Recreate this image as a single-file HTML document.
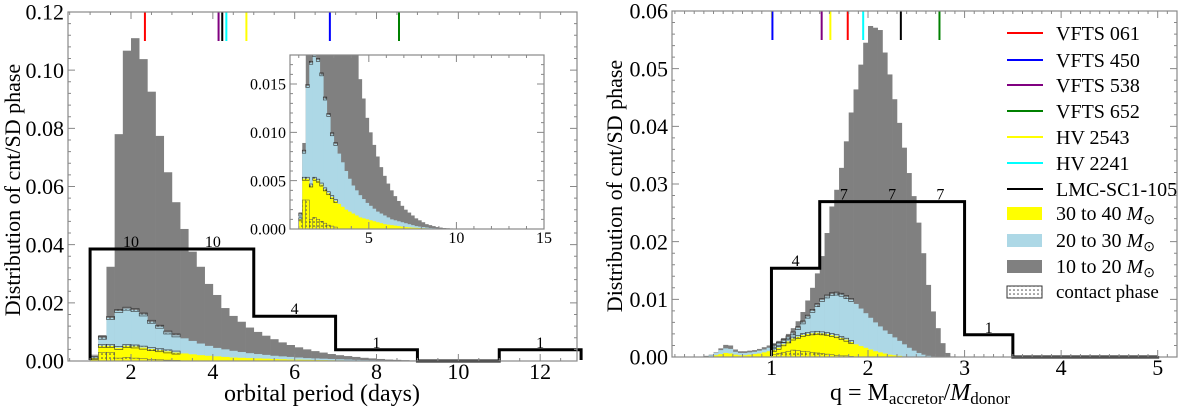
<!DOCTYPE html>
<html><head><meta charset="utf-8">
<style>
html,body{margin:0;padding:0;background:#fff;}
svg{display:block;font-family:"Liberation Serif",serif;}
</style></head>
<body>
<svg id="fig" width="1200" height="412" viewBox="0 0 1200 412" xmlns="http://www.w3.org/2000/svg">
<defs>
<pattern id="hatch" width="4" height="4" patternUnits="userSpaceOnUse"><rect width="4" height="4" fill="none"/><circle cx="2" cy="2" r="0.8" fill="#444"/></pattern>
<clipPath id="insetClip"><rect x="290" y="55" width="254" height="174"/></clipPath>
</defs>
<g id="left"></g>
<g id="inset"></g>
<g id="right"></g>
<g id="legend"></g>
</svg>
<script>
// ---- Period panel data (bins 0.2 d starting at 1.0 d) ----
const pStart = 1.0;
const pWidth = 0.2;
const pGray = [.0017,.0089,.0324,.078,.1067,.111,.1038,.0926,.0774,.0649,.0546,.0454,.0376,.0324,.0265,.0227,.0182,.0155,.0135,.0115,.0100,.0087,.0075,.0064,.0055,.0047,.0040,.0034,.0029,.0024,.0020,.0017,.0014,.0011,.0009,.0007,.0005,.0004,.0003,.0002,.00015,.0001,.00008,.00006,.00004,.00003,.00002,.00001];
const pBlue = [.0015,.0080,.0148,.0172,.0180,.0175,.0160,.0135,.0118,.0098,.0088,.0078,.0069,.0060,.0052,.0045,.0040,.0035,.0031,.0027,.0024,.0021,.0018,.0016,.0014,.0012,.0010,.0009,.0008,.0007,.0006,.0005,.0004,.0003,.00025,.0002,.00015,.0001,.00008,.00006,.00005,.00004,.00003,.00002,.00002,.00001,.00001,0];
const pYellow = [.0010,.0052,.0052,.0045,.0052,.0050,.0046,.0041,.0037,.0033,.0029,.0026,.0023,.0020,.0018,.0016,.0014,.0012,.0011,.0010,.0009,.0008,.0007,.0006,.0005,.00045,.0004,.00035,.0003,.00025,.0002,.00017,.00014,.00012,.0001,.00008,.00006,.00005,.00004,.00003,.00002,.00002,.00001,0,0,0,0,0];
const pContact = [.0010,.0030,.0030,.0010,.0012,.0010,.0008,.0006,.0004,.0003,.0002];
const pObsEdges = [1,3,5,7,9,11,13];
const pObsCounts = [10,10,4,1,0,1];
const pStars = [2.34,6.86,4.14,8.55,4.82,4.33,4.23];
const pXTicks = [2,4,6,8,10,12];
const pYTicks = [0,0.02,0.04,0.06,0.08,0.10,0.12];
const insXTicks = [5,10,15];
const insYTicks = [0,0.005,0.010,0.015];
// ---- Mass-ratio panel data (bins 0.05 starting at 0.30) ----
const qStart = 0.30;
const qWidth = 0.05;
const qGray = [.0002,.0004,.0008,.0015,.0021,.0020,.0013,.0010,.0010,.0011,.0012,.0014,.0017,.0020,.0024,.0028,.0033,.0040,.0050,.0062,.0078,.0098,.0120,.0145,.0175,.0215,.0261,.0290,.0328,.0374,.0424,.0464,.0507,.0545,.0574,.0571,.0567,.0528,.0490,.0447,.0406,.0363,.0319,.0279,.0233,.0180,.0125,.0079,.0050,.0024,.0007,.0001];
const qBlue = [.0001,.0003,.0007,.0012,.0015,.0014,.0009,.0007,.0007,.0008,.0009,.0011,.0013,.0016,.0019,.0023,.0028,.0034,.0041,.0050,.0060,.0070,.0080,.0090,.0099,.0105,.0109,.0110,.0108,.0104,.0099,.0092,.0084,.0076,.0068,.0060,.0053,.0046,.0040,.0034,.0028,.0022,.0016,.0011,.0007,.0004,.0002,.0001,0,0,0,0];
const qYellow = [0,.0001,.0003,.0005,.0007,.0006,.0004,.0003,.0003,.0004,.0005,.0006,.0008,.0010,.0012,.0016,.0022,.0027,.0032,.0035,.0038,.0040,.0041,.0042,.0041,.0040,.0038,.0036,.0033,.0030,.0026,.0022,.0019,.0016,.0013,.0010,.0008,.0006,.0004,.0003,.0002,.0001,0,0,0,0,0,0,0,0,0,0];
const qContact = [0,0,0,0,0,0,0,0,0,0,0,0,0,0,.0004,.0006,.0008,.0010,.0012,.0011,.0010,.0009,.0008,.0007,.0006,.0005,.0004,.0003,.0002,.0002,.0001];
const qObsEdges = [1,1.5,2,2.5,3,3.5,5];
const qObsCounts = [4,7,7,7,1,0];
const qStars = [1.79,1.01,1.52,2.74,1.61,1.95,2.34];
const qXTicks = [1,2,3,4,5];
const qYTicks = [0,0.01,0.02,0.03,0.04,0.05,0.06];
const starNames = ["VFTS 061","VFTS 450","VFTS 538","VFTS 652","HV 2543","HV 2241","LMC-SC1-105"];
const starColors = ["#ff0000","#0000ff","#800080","#008000","#ffff00","#00ffff","#000000"];
const countScale = 0.00385;

const NS = "http://www.w3.org/2000/svg";
function mk(tag, attrs, parent){ const e=document.createElementNS(NS,tag); for(const k in attrs) e.setAttribute(k,attrs[k]); parent.appendChild(e); return e; }
function lin(d0,d1,r0,r1){ return v=> r0+(v-d0)/(d1-d0)*(r1-r0); }

function drawHist(g, sx, sy, start, w, gray, blue, yellow, contact, y0){
  const layers=[[gray,"#808080","gray-bar"],[blue,"#add8e6","blue-bar"],[yellow,"#ffff00","yellow-bar"]];
  layers.forEach(([arr,col,nm])=>{
    arr.forEach((v,i)=>{
      if(v<=0) return;
      const x0=sx(start+i*w), x1=sx(start+(i+1)*w), yt=sy(v);
      const r=mk("rect",{x:x0,y:yt,width:x1-x0+0.3,height:y0-yt,fill:col},g);
      
      
    });
  });
  contact.forEach((v,i)=>{
    if(v<=0) return;
    const x0=sx(start+i*w), x1=sx(start+(i+1)*w);
    const r=mk("rect",{x:x0,y:sy(v),width:x1-x0,height:y0-sy(v),fill:"url(#hatch)",stroke:"#555","stroke-width":0.5},g);
    
    
    [blue[i],yellow[i]].forEach(t=>{ if(t>0.0006){
      const b=mk("rect",{x:x0,y:sy(t)-1.5,width:x1-x0,height:3,fill:"url(#hatch)",stroke:"#333","stroke-width":0.6},g);
      
      
    }});
  });
}
function drawObs(g, sx, sy, edges, counts, y0, fs){
  let d=`M${sx(edges[0])},${y0}`;
  counts.forEach((c,i)=>{ const y=sy(c*countScale); d+=` L${sx(edges[i])},${y} L${sx(edges[i+1])},${y}`; });
  d+=` L${sx(edges[edges.length-1])},${y0}`;
  const p=mk("path",{d:d,fill:"none",stroke:"#000","stroke-width":3},g);
  
  
  counts.forEach((c,i)=>{ if(c<=0) return;
    const t=mk("text",{x:(sx(edges[i])+sx(edges[i+1]))/2,y:sy(c*countScale)-2,"font-size":fs,"text-anchor":"middle"},g);
    t.textContent=c;
    
    
  });
}
function drawStars(g, sx, vals, yTop, yBot){
  vals.forEach((v,i)=>{
    const l=mk("line",{x1:sx(v),x2:sx(v),y1:yTop,y2:yBot,stroke:starColors[i],"stroke-width":2},g);
    
    
  });
}
function drawFrame(g,x0,x1,y0,y1,sx,sy,xt,yt,xminor,yminor,xr,yr,fs,xfmt,yfmt,lblGap){
  const f=mk("rect",{x:x0,y:y1,width:x1-x0,height:y0-y1,fill:"none",stroke:"#888","stroke-width":1.2},g);
  
  
  let d="";
  for(let v=xr[0];v<=xr[1]+1e-9;v+=xminor){ const x=sx(v); if(x<x0||x>x1) continue; d+=`M${x},${y0}v-3M${x},${y1}v3`; }
  for(let v=yr[0];v<=yr[1]+1e-9;v+=yminor){ const y=sy(v); if(y<y1-0.5||y>y0+0.5) continue; d+=`M${x0},${y}h3M${x1},${y}h-3`; }
  xt.forEach(v=>{ const x=sx(v); if(x>=x0-0.5&&x<=x1+0.5) d+=`M${x},${y0}v-7M${x},${y1}v7`; });
  yt.forEach(v=>{ const y=sy(v); d+=`M${x0},${y}h7M${x1},${y}h-7`; });
  const tk=mk("path",{d:d,stroke:"#888","stroke-width":1,fill:"none"},g);
  
  
  xt.forEach(v=>{ const t=mk("text",{x:sx(v),y:y0+lblGap,"font-size":fs,"text-anchor":"middle"},g); t.textContent=xfmt(v);
    
     });
  yt.forEach(v=>{ const t=mk("text",{x:x0-4,y:sy(v)+fs*0.35,"font-size":fs,"text-anchor":"end"},g); t.textContent=yfmt(v);
    
     });
}

// ---- Left panel ----
(function(){
  const g=document.getElementById("left");
  const X0=68,X1=577,Y0=361,Y1=12;
  const sx=lin(0.46,12.9,X0,X1), sy=lin(0,0.12,Y0,Y1);
  drawHist(g,sx,sy,pStart,pWidth,pGray,pBlue,pYellow,pContact,Y0);
  drawObs(g,sx,sy,pObsEdges,pObsCounts,Y0-1,16);
  drawStars(g,sx,pStars,Y1,41);
  drawFrame(g,X0,X1,Y0,Y1,sx,sy,pXTicks,pYTicks,0.5,0.004,[0.5,13],[0,0.12],22,v=>v,v=>v.toFixed(2),18);
  const xl=mk("text",{x:322,y:401,"font-size":24,"text-anchor":"middle"},g); xl.textContent="orbital period (days)";
  
  
  const yl=mk("text",{x:0,y:0,"font-size":22,"text-anchor":"middle",transform:"translate(20,190) rotate(-90)"},g); yl.textContent="Distribution of cnt/SD phase";
  
  
})();
// ---- Inset ----
(function(){
  const g=document.getElementById("inset");
  const X0=290,X1=544,Y0=229,Y1=55;
  const sx=lin(0.5,15,X0,X1), sy=lin(0,0.018,Y0,Y1);
  mk("rect",{x:X0,y:Y1,width:X1-X0,height:Y0-Y1,fill:"#fff"},g);
  const c=mk("g",{"clip-path":"url(#insetClip)"},g);
  drawHist(c,sx,sy,pStart,pWidth,pGray,pBlue,pYellow,pContact,Y0);
  drawFrame(g,X0,X1,Y0,Y1,sx,sy,insXTicks,insYTicks,1,0.001,[1,15],[0,0.018],16,v=>v,v=>v.toFixed(3),14);
})();
// ---- Right panel ----
(function(){
  const g=document.getElementById("right");
  const X0=672,X1=1177,Y0=357,Y1=11;
  const sx=lin(-0.03,5.2,X0,X1), sy=lin(0,0.06,Y0,Y1);
  drawHist(g,sx,sy,qStart,qWidth,qGray,qBlue,qYellow,qContact,Y0);
  drawObs(g,sx,sy,qObsEdges,qObsCounts,Y0-1,16);
  drawStars(g,sx,qStars,Y1,40);
  drawFrame(g,X0,X1,Y0,Y1,sx,sy,qXTicks,qYTicks,0.1,0.002,[0,5.2],[0,0.06],22,v=>v,v=>v.toFixed(2),18);
  const xl=mk("text",{x:920,y:400,"font-size":24,"text-anchor":"middle"},g);
  xl.innerHTML='q = M<tspan font-size="17" dy="4">accretor</tspan><tspan dy="-4">/</tspan><tspan font-style="italic">M</tspan><tspan font-size="17" dy="4">donor</tspan>';
  
  
  const yl=mk("text",{x:0,y:0,"font-size":22,"text-anchor":"middle",transform:"translate(622,186) rotate(-90)"},g); yl.textContent="Distribution of cnt/SD phase";
  
  
})();
// ---- Legend ----
(function(){
  const g=document.getElementById("legend");
  const ys=[33,60,85,111,137,163,189,213,240,266,292];
  starNames.forEach((n,i)=>{
    const e=mk("g",{},g);
    
    
    mk("line",{x1:1007,x2:1043,y1:ys[i],y2:ys[i],stroke:starColors[i],"stroke-width":2},e);
    const t=mk("text",{x:1056,y:ys[i]+7,"font-size":20},e); t.textContent=n;
  });
  const fills=[["#ffff00","30 to 40 "],["#add8e6","20 to 30 "],["#808080","10 to 20 "]];
  fills.forEach(([c,lab],j)=>{
    const y=ys[7+j];
    const e=mk("g",{},g);
    
    
    mk("rect",{x:1007,y:y-6,width:35,height:13,fill:c},e);
    const t=mk("text",{x:1056,y:y+7,"font-size":20},e);
    t.innerHTML=lab+'<tspan font-style="italic">M</tspan><tspan font-size="14" dy="4">⊙</tspan>';
  });
  const e=mk("g",{},g);
  
  
  mk("rect",{x:1007,y:ys[10]-6,width:35,height:12,fill:"url(#hatch)",stroke:"#333","stroke-width":1},e);
  const t=mk("text",{x:1056,y:ys[10]+6,"font-size":19},e); t.textContent="contact phase";
})();
</script>
</body></html>
